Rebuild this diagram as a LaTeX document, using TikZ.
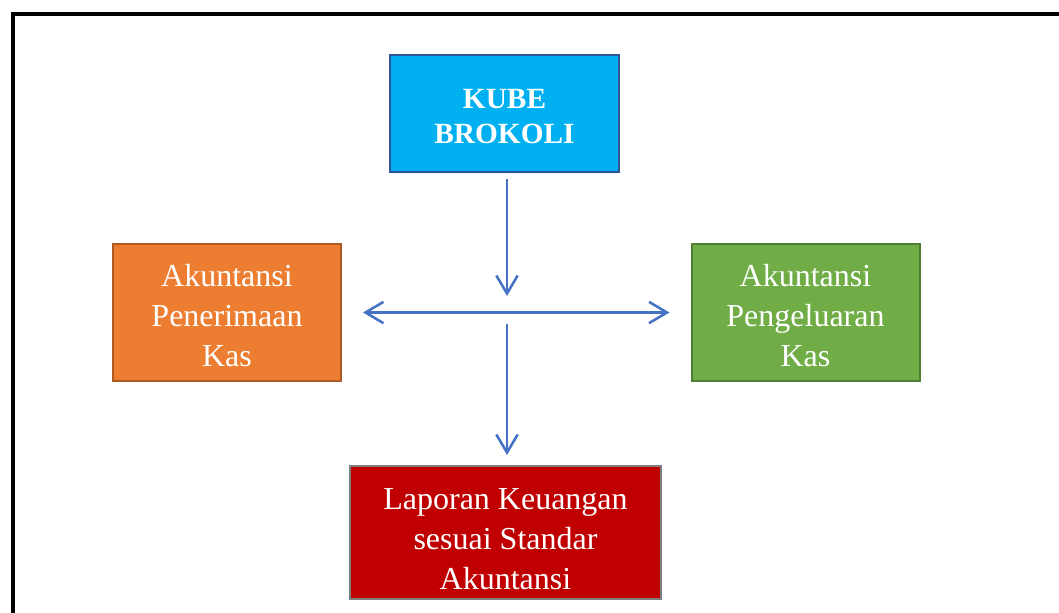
\documentclass[tikz,border=0pt]{standalone}
\usepackage{fontspec}
\setmainfont{Liberation Serif}
\usepackage{tikz}
\usetikzlibrary{arrows.meta,positioning,calc}
\definecolor{kubeblue}{HTML}{00B0F0}
\definecolor{kubeedge}{HTML}{2F5597}
\definecolor{kasorange}{HTML}{ED7D31}
\definecolor{orangeedge}{HTML}{AE5A21}
\definecolor{kasgreen}{HTML}{70AD47}
\definecolor{greenedge}{HTML}{507E32}
\definecolor{lapred}{HTML}{C00000}
\definecolor{rededge}{HTML}{7F7F7F}
\definecolor{arrowblue}{HTML}{4472C4}

\begin{document}
\begin{tikzpicture}[x=0.75pt, y=-0.75pt,
  >={Straight Barb[length=13.5pt, width=16pt]},
  kotak/.style={draw, line width=1.5pt, inner sep=0pt},
  teks/.style={align=center, text=white, inner sep=0pt, font=\fontsize{24}{30}\selectfont},
  panah/.style={arrowblue, line width=1.9pt}]
\useasboundingbox (0,0) rectangle (1059,612);
% outer frame, cut off at right and bottom
\draw[line width=3pt] (12.5,630) |- (1080,14);
% boxes
\node[kotak, fill=kubeblue, draw=kubeedge, minimum width=171.75pt, minimum height=87.75pt]
  (kube) at (504.5,113.5) {};
\node[teks, font=\fontsize{22}{26}\selectfont\bfseries] (kubeteks) at ($(kube)+(0,3)$) {KUBE\\BROKOLI};
\node[kotak, fill=kasorange, draw=orangeedge, minimum width=171pt, minimum height=102.75pt]
  (penerimaan) at (227,312.5) {};
\node[teks] (penerimaanteks) at ($(penerimaan)+(0,3.5)$) {Akuntansi\\Penerimaan\\Kas};
\node[kotak, fill=kasgreen, draw=greenedge, minimum width=171pt, minimum height=102.75pt]
  (pengeluaran) at (805.5,312.5) {};
\node[teks] (pengeluaranteks) at ($(pengeluaran)+(0,3.5)$) {Akuntansi\\Pengeluaran\\Kas};
\node[kotak, fill=lapred, draw=rededge, minimum width=233.25pt, minimum height=99.75pt]
  (laporan) at (505.5,532.5) {};
\node[teks] (laporanteks) at ($(laporan)+(0,6.5)$) {Laporan Keuangan\\sesuai Standar\\Akuntansi};
\coordinate (hub) at (507,313);
% arrows
\draw[panah, ->, shorten <=4.5pt, shorten >=12.75pt] (kube.south -| hub) -- (hub);
\draw[panah, <->, shorten <=15.75pt, shorten >=15.75pt] (penerimaan.east) -- (pengeluaran.west);
\draw[panah, ->, shorten <=8.25pt, shorten >=7.5pt] (hub) -- (laporan.north -| hub);
\end{tikzpicture}
\end{document}
